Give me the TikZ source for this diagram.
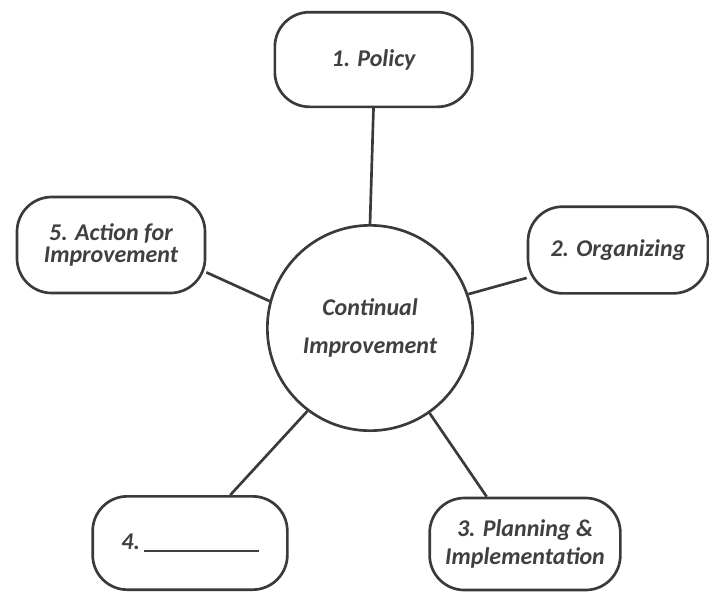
\documentclass[tikz,border=0pt]{standalone}
\usepackage{fontspec}
\setmainfont{Carlito}
\usepackage{tikz}
\definecolor{ink}{HTML}{3A3A3A}
\definecolor{label}{HTML}{404040}

\tikzset{
  box/.style={draw=ink, line width=2pt, rounded corners=26pt, fill=white,
    text=label, align=center, inner sep=0pt,
    font=\fontsize{18}{20}\selectfont\bfseries\itshape},
  hub/.style={draw=ink, line width=2pt, circle, fill=white, text=label,
    align=center, inner sep=0pt, minimum size=154pt,
    font=\fontsize{18}{28}\selectfont\bfseries\itshape},
  link/.style={draw=ink, line width=2pt}
}

\begin{document}
\begin{tikzpicture}[x=0.75pt,y=-0.75pt]
\useasboundingbox (0,0) rectangle (709,594);

\node[hub] (ci) at (370,328) {Continual\\Improvement};

\node[box, minimum width=148pt, minimum height=71pt] (pol) at (373.5,59.5) {1. Policy};
\node[box, minimum width=135pt, minimum height=65pt] (org) at (618,250) {2. Organizing};
\node[box, minimum width=143pt, minimum height=69pt,
      font=\fontsize{18}{20.5}\selectfont\bfseries\itshape] (pln) at (525,544)
      {3. Planning \&\\Implementation};
\node[box, minimum width=146pt, minimum height=70pt] (four) at (190,543)
      {4.\,\rule[-2pt]{86pt}{1.4pt}};
\node[box, minimum width=141pt, minimum height=72pt,
      font=\fontsize{18}{16.5}\selectfont\bfseries\itshape] (act) at (111,245)
      {5. Action for\\Improvement};

% spokes
\draw[link] (ci.north) -- (pol.south);
\draw[link] (ci.19) -- (org.197);
\draw[link] (ci.305) -- (pln.129);
\draw[link] (ci.233) -- (four.50);
\draw[link] (ci.165) -- (act.-16);
\end{tikzpicture}
\end{document}
